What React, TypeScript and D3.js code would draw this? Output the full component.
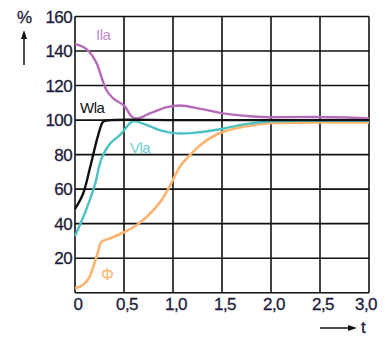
import React from "react";
import * as d3 from "d3";

const xTicks = [0, 0.5, 1.0, 1.5, 2.0, 2.5, 3.0];
const xTickLabels = ["0", "0,5", "1,0", "1,5", "2,0", "2,5", "3,0"];
const yTicks = [20, 40, 60, 80, 100, 120, 140, 160];

const ilaT = [0, 0.12, 0.22, 0.32, 0.39, 0.51, 0.58, 0.63, 0.77, 0.93, 1.07, 1.28, 1.51, 1.79, 2.01, 2.43, 2.77, 3.0];
const ilaV = [144, 141, 133, 117.4, 112.6, 107.8, 102, 101, 104, 107.4, 108.4, 106.5, 103.9, 102.2, 101.6, 101.8, 101.5, 101];

const wlaT = [0, 0.08, 0.16, 0.23, 0.28, 0.3, 0.37, 1.0, 2.0, 3.0];
const wlaV = [48.5, 57, 74, 90, 98.5, 99.5, 100, 100, 100, 100];

const vlaT = [0, 0.1, 0.2, 0.27, 0.36, 0.46, 0.53, 0.59, 0.73, 0.87, 1.04, 1.24, 1.48, 1.68, 1.79, 2.0, 2.5, 3.0];
const vlaV = [32.8, 46, 62, 77.5, 86.5, 91.4, 96.2, 99.3, 97.2, 94, 92.3, 92.8, 94.7, 97.1, 98, 99.3, 99.6, 99.6];

const phiT = [0, 0.08, 0.15, 0.22, 0.27, 0.36, 0.51, 0.63, 0.8, 0.9, 0.97, 1.07, 1.17, 1.28, 1.45, 1.62, 1.79, 2.03, 2.5, 3.0];
const phiV = [2.5, 4.5, 9.3, 20.9, 29.5, 31.5, 35.3, 39.2, 47.9, 55, 62, 73, 79.5, 85.6, 91.8, 95, 96.8, 98.4, 98.6, 98.6];

const W = 385;
const H = 339;

export default function App() {
  const x = d3.scaleLinear().domain([0, 3]).range([75, 369]);
  const y = d3.scaleLinear().domain([0, 160]).range([292.7, 16.5]);
  const mkLine = (curve: any) =>
    d3
      .line<[number, number]>()
      .x((d) => x(d[0]))
      .y((d) => y(d[1]))
      .curve(curve);
  const mono = mkLine(d3.curveMonotoneX);
  const cat = mkLine(d3.curveCatmullRom.alpha(0.5));
  const mk = (t: number[], v: number[], l = mono) => l(t.map((ti, i) => [ti, v[i]] as [number, number])) || "";

  const font = "Liberation Sans, Arial, sans-serif";
  const textCol = "#1e1b3c";

  return (
    <div style={{ position: "absolute", left: 0, top: 0 }}>
      <svg width={W} height={H} style={{ display: "block", background: "#fff" }}>
        {/* grid */}
        {xTicks.map((t) => (
          <line key={"gx" + t} x1={x(t)} x2={x(t)} y1={y(0)} y2={y(160)} stroke="#111" strokeWidth={1.6} />
        ))}
        {[0, ...yTicks].map((v) => (
          <line key={"gy" + v} x1={x(0)} x2={x(3)} y1={y(v)} y2={y(v)} stroke="#111" strokeWidth={1.6} />
        ))}
        {/* curves */}
        <path d={mk(phiT, phiV)} fill="none" stroke="#fbb46f" strokeWidth={2.6} />
        <path d={mk(vlaT, vlaV, cat)} fill="none" stroke="#4cc2c2" strokeWidth={2.4} />
        <path d={mk(ilaT, ilaV)} fill="none" stroke="#b66ab8" strokeWidth={2.4} />
        <path d={mk(wlaT, wlaV, cat)} fill="none" stroke="#111" strokeWidth={2.4} />
        {/* y tick labels */}
        {yTicks.map((v) => (
          <text key={"yl" + v} x={72} y={y(v) + 6} textAnchor="end" fontFamily={font} fontSize={17} fill={textCol} letterSpacing={-0.6} stroke={textCol} strokeWidth={0.3}>
            {v}
          </text>
        ))}
        {/* x tick labels */}
        {xTicks.map((t, i) => (
          <text key={"xl" + t} x={x(t) + (i === 0 ? 3 : i === xTicks.length - 1 ? -3 : 3)} y={310} textAnchor="middle" fontFamily={font} fontSize={17} fill={textCol} letterSpacing={-0.6} stroke={textCol} strokeWidth={0.3}>
            {xTickLabels[i]}
          </text>
        ))}
        {/* % and arrow */}
        <text x={17} y={23} fontFamily={font} fontSize={17} fill={textCol} stroke={textCol} strokeWidth={0.3}>%</text>
        <line x1={24} x2={24} y1={65} y2={36} stroke="#111" strokeWidth={1.5} />
        <path d="M24,30 L21,39 L27,39 Z" fill="#111" />
        {/* t and arrow */}
        <line x1={320} x2={350} y1={328} y2={328} stroke="#111" strokeWidth={1.5} />
        <path d="M357,328 L348,325 L348,331 Z" fill="#111" />
        <text x={361} y={333} fontFamily={font} fontSize={17} fill={textCol} stroke={textCol} strokeWidth={0.3}>t</text>
        {/* series labels */}
        <text x={96} y={40} fontFamily={font} fontSize={15} fill="#c58cc7" letterSpacing={-0.5}>Ila</text>
        <text x={80} y={113} fontFamily={font} fontSize={15} fill="#111" letterSpacing={-0.5}>Wla</text>
        <text x={130} y={153} fontFamily={font} fontSize={15} fill="#6fcfd0" letterSpacing={-0.5}>Vla</text>
        <text x={101} y={280} fontFamily={font} fontSize={16} fill="#fbb46f">Φ</text>
      </svg>
    </div>
  );
}
